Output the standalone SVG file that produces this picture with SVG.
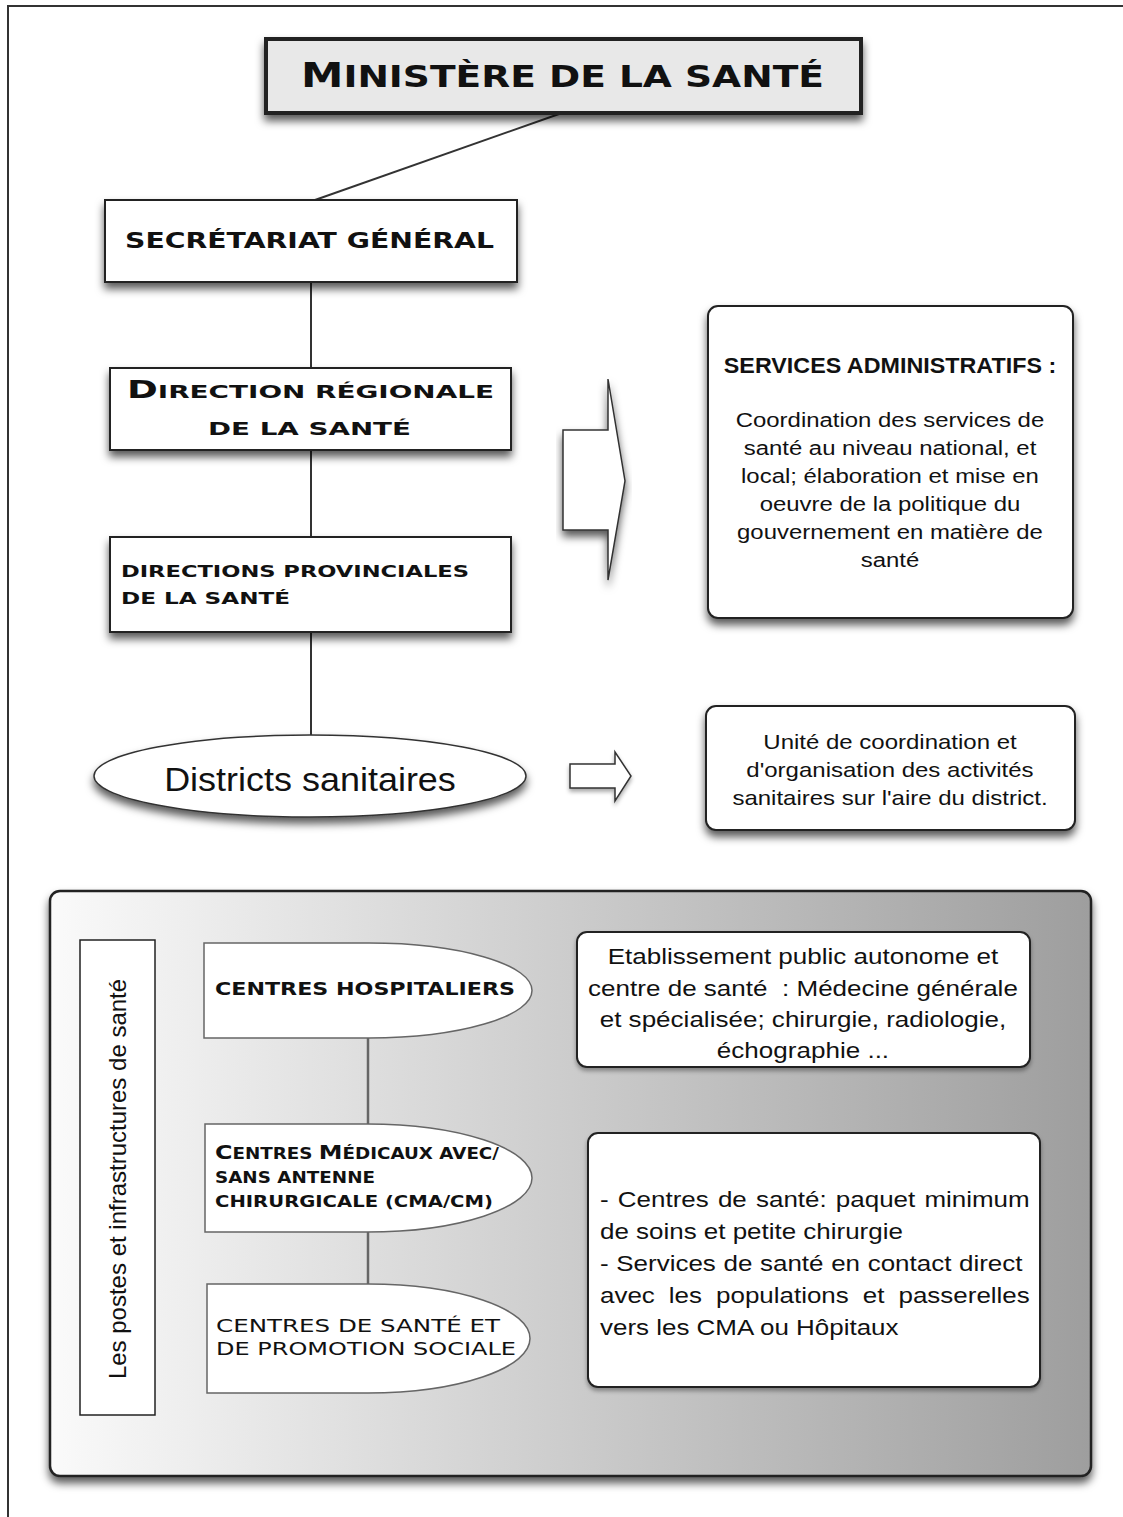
<svg xmlns="http://www.w3.org/2000/svg" width="1123" height="1517" viewBox="0 0 1123 1517">
<style>
.cp{font-family:"DejaVu Sans",sans-serif;font-weight:bold;fill:#111}
.cpl{font-family:"DejaVu Sans",sans-serif;font-weight:normal;fill:#111}
.hv{font-family:"Liberation Sans",Arial,sans-serif;fill:#111}
.box{fill:#fff;stroke:#222;stroke-width:2}
.inner{fill:#fff;stroke:#666;stroke-width:1.5}
.conn{stroke:#333;stroke-width:2;fill:none}
.conn2{stroke:#666;stroke-width:2.5;fill:none}
</style>
<defs>
<filter id="sh" x="-10%" y="-10%" width="120%" height="140%">
<feDropShadow dx="0" dy="6" stdDeviation="4" flood-color="#000" flood-opacity="0.65"/>
</filter>
<filter id="sh2" x="-10%" y="-10%" width="120%" height="140%">
<feDropShadow dx="0" dy="3" stdDeviation="2" flood-color="#000" flood-opacity="0.35"/>
</filter>
<linearGradient id="pg" x1="50" y1="0" x2="1091" y2="0" gradientUnits="userSpaceOnUse">
<stop offset="0" stop-color="#fafafa"/>
<stop offset="1" stop-color="#9e9e9e"/>
</linearGradient>
</defs>
<rect width="1123" height="1517" fill="#fff"/>
<rect x="8" y="6" width="1130" height="1530" fill="none" stroke="#333" stroke-width="2"/>

<g id="connectors">
<line class="conn" x1="559" y1="114" x2="315" y2="200"/>
<line class="conn" x1="311" y1="282" x2="311" y2="368"/>
<line class="conn" x1="311" y1="450" x2="311" y2="537"/>
<line class="conn" x1="311" y1="632" x2="311" y2="735"/>
</g>

<g id="ministere">
<rect x="266" y="39" width="595" height="74" fill="#e8e8e8" stroke="#222" stroke-width="4" filter="url(#sh)"/>
<text class="cp" x="301" y="87" textLength="523" lengthAdjust="spacingAndGlyphs"><tspan font-size="34">M</tspan><tspan font-size="30">INISTÈRE DE LA SANTÉ</tspan></text>
</g>

<g id="secretariat">
<rect class="box" x="105" y="200" width="412" height="82" filter="url(#sh)"/>
<text class="cp" x="125" y="248" font-size="20.5" textLength="369" lengthAdjust="spacingAndGlyphs">SECRÉTARIAT GÉNÉRAL</text>
</g>

<g id="direction-regionale">
<rect class="box" x="110" y="368" width="401" height="82" filter="url(#sh)"/>
<text class="cp" x="127" y="398" textLength="367" lengthAdjust="spacingAndGlyphs"><tspan font-size="24">D</tspan><tspan font-size="18">IRECTION RÉGIONALE</tspan></text>
<text class="cp" x="208" y="435" font-size="18" textLength="203" lengthAdjust="spacingAndGlyphs">DE LA SANTÉ</text>
</g>

<g id="directions-provinciales">
<rect class="box" x="110" y="537" width="401" height="95" filter="url(#sh)"/>
<text class="cp" x="121" y="577" font-size="16" textLength="348" lengthAdjust="spacingAndGlyphs">DIRECTIONS PROVINCIALES</text>
<text class="cp" x="121" y="604" font-size="16" textLength="169" lengthAdjust="spacingAndGlyphs">DE LA SANTÉ</text>
</g>

<g id="big-arrow">
<path d="M563,430 L608,430 L608,379 L625,481 L608,580 L608,530 L563,530 Z" fill="#fff" stroke="#333" stroke-width="1.5" filter="url(#sh)"/>
</g>

<g id="services-administratifs">
<rect class="box" x="708" y="306" width="365" height="312" rx="10" filter="url(#sh)"/>
<text class="hv" x="890" y="373" font-size="22" font-weight="bold" text-anchor="middle" transform="matrix(1.06 0 0 1 -53.4 0)">SERVICES ADMINISTRATIFS :</text>
<g class="hv" font-size="21" text-anchor="middle" transform="matrix(1.14 0 0 1 -124.6 0)">
<text x="890" y="427">Coordination des services de</text>
<text x="890" y="455">santé au niveau national, et</text>
<text x="890" y="483">local; élaboration et mise en</text>
<text x="890" y="511">oeuvre de la politique du</text>
<text x="890" y="539">gouvernement en matière de</text>
<text x="890" y="567">santé</text>
</g>
</g>

<g id="districts">
<ellipse cx="310" cy="776" rx="216" ry="41" fill="#fff" stroke="#333" stroke-width="1.5" filter="url(#sh)"/>
<text class="hv" x="310" y="791" font-size="33" text-anchor="middle" transform="matrix(1.09 0 0 1 -27.9 0)">Districts sanitaires</text>
</g>

<g id="small-arrow">
<path d="M570,764 L615,764 L615,752 L631,776 L615,801 L615,788 L570,788 Z" fill="#fff" stroke="#333" stroke-width="1.5" filter="url(#sh2)"/>
</g>

<g id="unite">
<rect class="box" x="706" y="706" width="369" height="124" rx="10" filter="url(#sh)"/>
<g class="hv" font-size="20" text-anchor="middle" transform="matrix(1.2 0 0 1 -178 0)">
<text x="890" y="749">Unité de coordination et</text>
<text x="890" y="777">d'organisation des activités</text>
<text x="890" y="805">sanitaires sur l'aire du district.</text>
</g>
</g>

<g id="panel">
<rect x="50" y="891" width="1041" height="585" rx="10" fill="url(#pg)" stroke="#222" stroke-width="2.5" filter="url(#sh)"/>
</g>

<g id="panel-connectors">
<line class="conn2" x1="368" y1="1038" x2="368" y2="1124"/>
<line class="conn2" x1="368" y1="1232" x2="368" y2="1284"/>
</g>

<g id="label-postes">
<rect x="80" y="940" width="75" height="475" fill="#fff" stroke="#222" stroke-width="1.5"/>
<text class="hv" font-size="24" text-anchor="middle" transform="translate(126,1179) rotate(-90)" x="0" y="0">Les postes et infrastructures de santé</text>
</g>

<g id="centres-hospitaliers">
<path class="inner" d="M204,943 L369,943 A163,47.5 0 0 1 369,1038 L204,1038 Z"/>
<text class="cp" x="215" y="995" font-size="17" textLength="300" lengthAdjust="spacingAndGlyphs">CENTRES HOSPITALIERS</text>
</g>

<g id="centres-medicaux">
<path class="inner" d="M205,1124 L367,1124 A165,54 0 0 1 367,1232 L205,1232 Z"/>
<text class="cp" x="215" y="1159" textLength="284" lengthAdjust="spacingAndGlyphs"><tspan font-size="19.5">C</tspan><tspan font-size="15">ENTRES </tspan><tspan font-size="19.5">M</tspan><tspan font-size="15">ÉDICAUX AVEC/</tspan></text>
<text class="cp" x="215" y="1183" font-size="15" textLength="160" lengthAdjust="spacingAndGlyphs">SANS ANTENNE</text>
<text class="cp" x="215" y="1207" font-size="15" textLength="278" lengthAdjust="spacingAndGlyphs">CHIRURGICALE (CMA/CM)</text>
</g>

<g id="centres-sante">
<path class="inner" d="M207,1284 L368,1284 A162,54.5 0 0 1 368,1393 L207,1393 Z"/>
<text class="cpl" x="216" y="1332" font-size="18" textLength="284" lengthAdjust="spacingAndGlyphs">CENTRES DE SANTÉ ET</text>
<text class="cpl" x="216" y="1355" font-size="18" textLength="300" lengthAdjust="spacingAndGlyphs">DE PROMOTION SOCIALE</text>
</g>

<g id="etablissement">
<rect class="box" x="577" y="932" width="453" height="135" rx="10" stroke-width="1.5" filter="url(#sh2)"/>
<g class="hv" font-size="22" text-anchor="middle" transform="matrix(1.184 0 0 1 -147.75 0)">
<text x="803" y="964">Etablissement public autonome et</text>
<text x="803" y="996" style="white-space:pre">centre de santé  : Médecine générale</text>
<text x="803" y="1027">et spécialisée; chirurgie, radiologie,</text>
<text x="803" y="1058">échographie ...</text>
</g>
</g>

<g id="centres-sante-desc">
<rect class="box" x="588" y="1133" width="452" height="254" rx="10" stroke-width="1.5" filter="url(#sh2)"/>
<g class="hv" font-size="22" transform="matrix(1.18 0 0 1 -105.64 0)">
<text x="598" y="1207" word-spacing="1.7">- Centres de santé: paquet minimum</text>
<text x="598" y="1239">de soins et petite chirurgie</text>
<text x="598" y="1271" word-spacing="0.4">- Services de santé en contact direct</text>
<text x="598" y="1303" word-spacing="5.8">avec les populations et passerelles</text>
<text x="598" y="1335">vers les CMA ou Hôpitaux</text>
</g>
</g>
</svg>
